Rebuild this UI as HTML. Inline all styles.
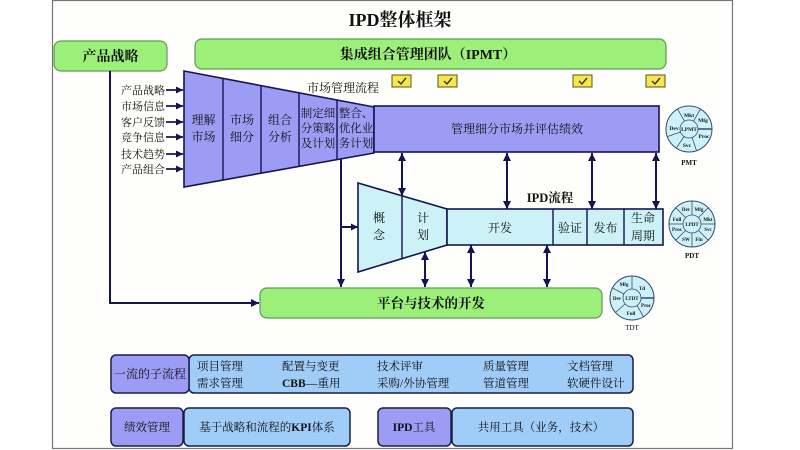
<!DOCTYPE html>
<html><head><meta charset="utf-8">
<style>
html,body{margin:0;padding:0;background:#fff;}
svg{display:block;}
text{font-family:"Liberation Serif","Noto Serif CJK SC",serif;fill:#111;}
</style></head>
<body>
<svg width="800" height="450" viewBox="0 0 800 450" xmlns="http://www.w3.org/2000/svg">
<defs>
<marker id="ah" viewBox="0 0 10 10" refX="10" refY="5" markerWidth="8" markerHeight="8" markerUnits="userSpaceOnUse" orient="auto-start-reverse">
<path d="M0,0 L10,5 L0,10 z" fill="#141452"/>
</marker>
<marker id="ahs" viewBox="0 0 10 10" refX="10" refY="5" markerWidth="7" markerHeight="7" markerUnits="userSpaceOnUse" orient="auto">
<path d="M0,0 L10,5 L0,10 z" fill="#141452"/>
</marker>
</defs>
<rect x="0" y="0" width="800" height="450" fill="#fff"/>
<!-- frame -->
<rect x="52.5" y="0.5" width="680" height="448" fill="#fefefc" stroke="#777" stroke-width="1.2"/>

<!-- title -->
<text x="400" y="26" font-size="18" font-weight="bold" text-anchor="middle">IPD整体框架</text>

<!-- 产品战略 -->
<rect x="54" y="41" width="113" height="30" rx="7" fill="#9cf07a" stroke="#5f9a55" stroke-width="1.2"/>
<text x="110.5" y="61" font-size="14" font-weight="bold" text-anchor="middle">产品战略</text>

<!-- IPMT -->
<rect x="195" y="39" width="471" height="30" rx="7" fill="#9cf07a" stroke="#5f9a55" stroke-width="1.2"/>
<text x="428" y="59" font-size="14" font-weight="bold" text-anchor="middle">集成组合管理团队（IPMT）</text>

<!-- checkboxes -->
<g stroke="#5a5020" stroke-width="1">
<rect x="392" y="75" width="19" height="12" fill="#f6e84a"/>
<rect x="438" y="75" width="19" height="12" fill="#f6e84a"/>
<rect x="573" y="75" width="19" height="12" fill="#f6e84a"/>
<rect x="646" y="75" width="19" height="12" fill="#f6e84a"/>
</g>
<g stroke="#333" stroke-width="1.4" fill="none">
<path d="M398,81 l3,3 l5,-6"/>
<path d="M444,81 l3,3 l5,-6"/>
<path d="M579,81 l3,3 l5,-6"/>
<path d="M652,81 l3,3 l5,-6"/>
</g>

<!-- left vertical line to platform -->
<path d="M110,71 L110,303 L259,303" fill="none" stroke="#141452" stroke-width="2" marker-end="url(#ah)"/>

<!-- input labels -->
<g font-size="11" text-anchor="end">
<text x="165" y="94">产品战略</text>
<text x="165" y="110">市场信息</text>
<text x="165" y="126">客户反馈</text>
<text x="165" y="141">竞争信息</text>
<text x="165" y="158">技术趋势</text>
<text x="165" y="173">产品组合</text>
</g>
<g stroke="#141452" stroke-width="1.8">
<line x1="166" y1="90" x2="183" y2="90" marker-end="url(#ahs)"/>
<line x1="166" y1="106" x2="183" y2="106" marker-end="url(#ahs)"/>
<line x1="166" y1="122" x2="183" y2="122" marker-end="url(#ahs)"/>
<line x1="166" y1="137" x2="183" y2="137" marker-end="url(#ahs)"/>
<line x1="166" y1="154" x2="183" y2="154" marker-end="url(#ahs)"/>
<line x1="166" y1="169" x2="183" y2="169" marker-end="url(#ahs)"/>
</g>

<!-- market funnel -->
<polygon points="184,71 374,107 374,153 184,187" fill="#9c9cf4" stroke="#141452" stroke-width="1.6"/>
<g stroke="#141452" stroke-width="1.4">
<line x1="223" y1="78.4" x2="223" y2="180"/>
<line x1="261" y1="85.6" x2="261" y2="173.2"/>
<line x1="299" y1="92.8" x2="299" y2="166.4"/>
<line x1="337" y1="100" x2="337" y2="159.6"/>
</g>
<rect x="374" y="106" width="285" height="46" fill="#9c9cf4" stroke="#141452" stroke-width="1.6"/>
<g font-size="12" text-anchor="middle">
<text x="203.5" y="124">理解</text><text x="203.5" y="141">市场</text>
<text x="242" y="124">市场</text><text x="242" y="141">细分</text>
<text x="280" y="124">组合</text><text x="280" y="141">分析</text>
</g>
<g font-size="11.5" text-anchor="middle">
<text x="318" y="117">制定细</text><text x="318" y="132">分策略</text><text x="318" y="147">及计划</text>
<text x="356" y="117">整合、</text><text x="356" y="132">优化业</text><text x="356" y="147">务计划</text>
</g>
<text x="343" y="92" font-size="12" text-anchor="middle">市场管理流程</text>
<text x="517" y="133" font-size="12" text-anchor="middle">管理细分市场并评估绩效</text>

<!-- line from funnel down to platform -->
<line x1="341" y1="159" x2="341" y2="287" stroke="#141452" stroke-width="2" marker-end="url(#ah)"/>
<line x1="341" y1="227" x2="358" y2="227" stroke="#141452" stroke-width="2" marker-end="url(#ahs)"/>

<!-- arrows between market and IPD -->
<g stroke="#141452" stroke-width="2">
<line x1="402" y1="153" x2="402" y2="196" marker-start="url(#ah)" marker-end="url(#ah)"/>
<line x1="507" y1="153" x2="507" y2="209" marker-start="url(#ah)" marker-end="url(#ah)"/>
<line x1="592" y1="153" x2="592" y2="209" marker-start="url(#ah)" marker-end="url(#ah)"/>
<line x1="656" y1="153" x2="656" y2="209" marker-start="url(#ah)" marker-end="url(#ah)"/>
</g>

<!-- IPD funnel -->
<polygon points="358,183 447,209 447,245 358,272" fill="#ccf2f8" stroke="#141452" stroke-width="1.6"/>
<line x1="402" y1="196" x2="402" y2="258.6" stroke="#141452" stroke-width="1.4"/>
<rect x="447" y="209" width="216" height="36" fill="#ccf2f8" stroke="#141452" stroke-width="1.6"/>
<g stroke="#141452" stroke-width="1.4">
<line x1="553" y1="209" x2="553" y2="245"/>
<line x1="587" y1="209" x2="587" y2="245"/>
<line x1="624" y1="209" x2="624" y2="245"/>
</g>
<text x="550" y="202" font-size="12.5" font-weight="bold" text-anchor="middle">IPD流程</text>
<g font-size="12" text-anchor="middle">
<text x="379" y="222">概</text><text x="379" y="239">念</text>
<text x="423" y="222">计</text><text x="423" y="239">划</text>
<text x="500" y="232">开发</text>
<text x="570" y="232">验证</text>
<text x="605.5" y="232">发布</text>
<text x="643" y="222">生命</text><text x="643" y="240">周期</text>
</g>

<!-- arrows between IPD and platform -->
<g stroke="#141452" stroke-width="2">
<line x1="425" y1="252" x2="425" y2="287" marker-start="url(#ah)" marker-end="url(#ah)"/>
<line x1="471" y1="245" x2="471" y2="287" marker-start="url(#ah)" marker-end="url(#ah)"/>
<line x1="547" y1="245" x2="547" y2="287" marker-start="url(#ah)" marker-end="url(#ah)"/>
</g>

<!-- platform -->
<rect x="260" y="288" width="342" height="30" rx="7" fill="#9cf07a" stroke="#5f9a55" stroke-width="1.2"/>
<text x="431" y="308" font-size="13.5" font-weight="bold" text-anchor="middle">平台与技术的开发</text>

<!-- PMT circle -->
<g transform="translate(689,129)">
<circle r="23" fill="#ccf2f8" stroke="#3a4a6a" stroke-width="1"/>
<circle r="9" fill="#ccf2f8" stroke="#3a4a6a" stroke-width="0.8"/>
<g stroke="#3a4a6a" stroke-width="0.8">
<line x1="9" y1="0" x2="23" y2="0" stroke-width="1.5"/>
<line x1="-4.5" y1="-7.8" x2="-11.5" y2="-19.9"/>
<line x1="4.5" y1="-7.8" x2="11.5" y2="-19.9"/>
<line x1="-8.5" y1="3" x2="-21.7" y2="7.6"/>
<line x1="3" y1="8.5" x2="7.6" y2="21.7"/>
<line x1="-5" y1="7.5" x2="-12.7" y2="19.2"/>
</g>
<g font-size="5.5" font-weight="bold" text-anchor="middle">
<text x="0" y="-12">Mkt</text>
<text x="14" y="-7">Mfg</text>
<text x="15" y="9">Proc</text>
<text x="-2" y="18">Svc</text>
<text x="-15" y="1">Dev</text>
<text x="0" y="2">LPMT</text>
</g>
</g>
<text x="689" y="165" font-size="7" font-weight="bold" text-anchor="middle">PMT</text>

<!-- PDT circle -->
<g transform="translate(692,224)">
<circle r="23" fill="#ccf2f8" stroke="#3a4a6a" stroke-width="1"/>
<circle r="9" fill="#ccf2f8" stroke="#3a4a6a" stroke-width="0.8"/>
<g stroke="#3a4a6a" stroke-width="0.8">
<line x1="9" y1="0" x2="23" y2="0"/>
<line x1="-9" y1="0" x2="-23" y2="0"/>
<line x1="0" y1="9" x2="0" y2="23"/>
<line x1="0" y1="-9" x2="0" y2="-23"/>
<line x1="6.4" y1="6.4" x2="16.3" y2="16.3"/>
<line x1="-6.4" y1="6.4" x2="-16.3" y2="16.3"/>
<line x1="6.4" y1="-6.4" x2="16.3" y2="-16.3"/>
<line x1="-6.4" y1="-6.4" x2="-16.3" y2="-16.3"/>
</g>
<g font-size="5" font-weight="bold" text-anchor="middle">
<text x="-6" y="-13">Dev</text>
<text x="7" y="-13">Mfg</text>
<text x="16" y="-3">Mkt</text>
<text x="16" y="7">Svc</text>
<text x="7" y="17">Fin</text>
<text x="-6" y="17">SW</text>
<text x="-15" y="7">Proc</text>
<text x="-15" y="-3">Full</text>
<text x="0" y="2">LPDT</text>
</g>
</g>
<text x="692" y="258" font-size="7" font-weight="bold" text-anchor="middle">PDT</text>

<!-- TDT circle -->
<g transform="translate(632,298)">
<circle r="22" fill="#ccf2f8" stroke="#3a4a6a" stroke-width="1"/>
<circle r="9" fill="#ccf2f8" stroke="#3a4a6a" stroke-width="0.8"/>
<g stroke="#3a4a6a" stroke-width="0.8">
<line x1="9" y1="0" x2="22" y2="0" stroke-width="1.5"/>
<line x1="0" y1="-9" x2="0" y2="-22"/>
<line x1="-8" y1="-4" x2="-19.5" y2="-10"/>
<line x1="-7" y1="6" x2="-16.5" y2="14.5"/>
<line x1="5" y1="7.5" x2="11.5" y2="18.8"/>
</g>
<g font-size="5" font-weight="bold" text-anchor="middle">
<text x="-8" y="-12">Mfg</text>
<text x="10" y="-8">Td</text>
<text x="14" y="9">Proc</text>
<text x="-1" y="17">Full</text>
<text x="-15" y="2">Dev</text>
<text x="0" y="2">LTDT</text>
</g>
</g>
<text x="632" y="330" font-size="7" text-anchor="middle">TDT</text>

<!-- bottom row 1 -->
<rect x="189" y="355" width="444" height="38" rx="5" fill="#a0ccf8" stroke="#1a1f45" stroke-width="1.5"/>
<rect x="111" y="355" width="78" height="38" rx="5" fill="#9c9cf4" stroke="#1a1f45" stroke-width="1.5"/>
<text x="150" y="378" font-size="12" text-anchor="middle">一流的子流程</text>
<g font-size="11.5">
<text x="197" y="370">项目管理</text><text x="197" y="387">需求管理</text>
<text x="282" y="370">配置与变更</text><text x="282" y="387" font-weight="bold">CBB</text><text x="306" y="387">—重用</text>
<text x="377" y="370">技术评审</text><text x="377" y="387">采购/外协管理</text>
<text x="483" y="370">质量管理</text><text x="483" y="387">管道管理</text>
<text x="567" y="370">文档管理</text><text x="567" y="387">软硬件设计</text>
</g>

<!-- bottom row 2 -->
<rect x="111" y="408" width="72" height="38" rx="5" fill="#9c9cf4" stroke="#1a1f45" stroke-width="1.5"/>
<rect x="184" y="408" width="166" height="38" rx="5" fill="#a0ccf8" stroke="#1a1f45" stroke-width="1.5"/>
<rect x="378" y="408" width="73" height="38" rx="5" fill="#9c9cf4" stroke="#1a1f45" stroke-width="1.5"/>
<rect x="452" y="408" width="181" height="38" rx="5" fill="#a0ccf8" stroke="#1a1f45" stroke-width="1.5"/>
<g font-size="11.5" text-anchor="middle">
<text x="147" y="431">绩效管理</text>
<text x="267" y="431">基于战略和流程的<tspan font-weight="bold">KPI</tspan>体系</text>
<text x="414" y="431"><tspan font-weight="bold">IPD</tspan>工具</text>
<text x="541" y="431">共用工具（业务，技术）</text>
</g>
</svg>
</body></html>
